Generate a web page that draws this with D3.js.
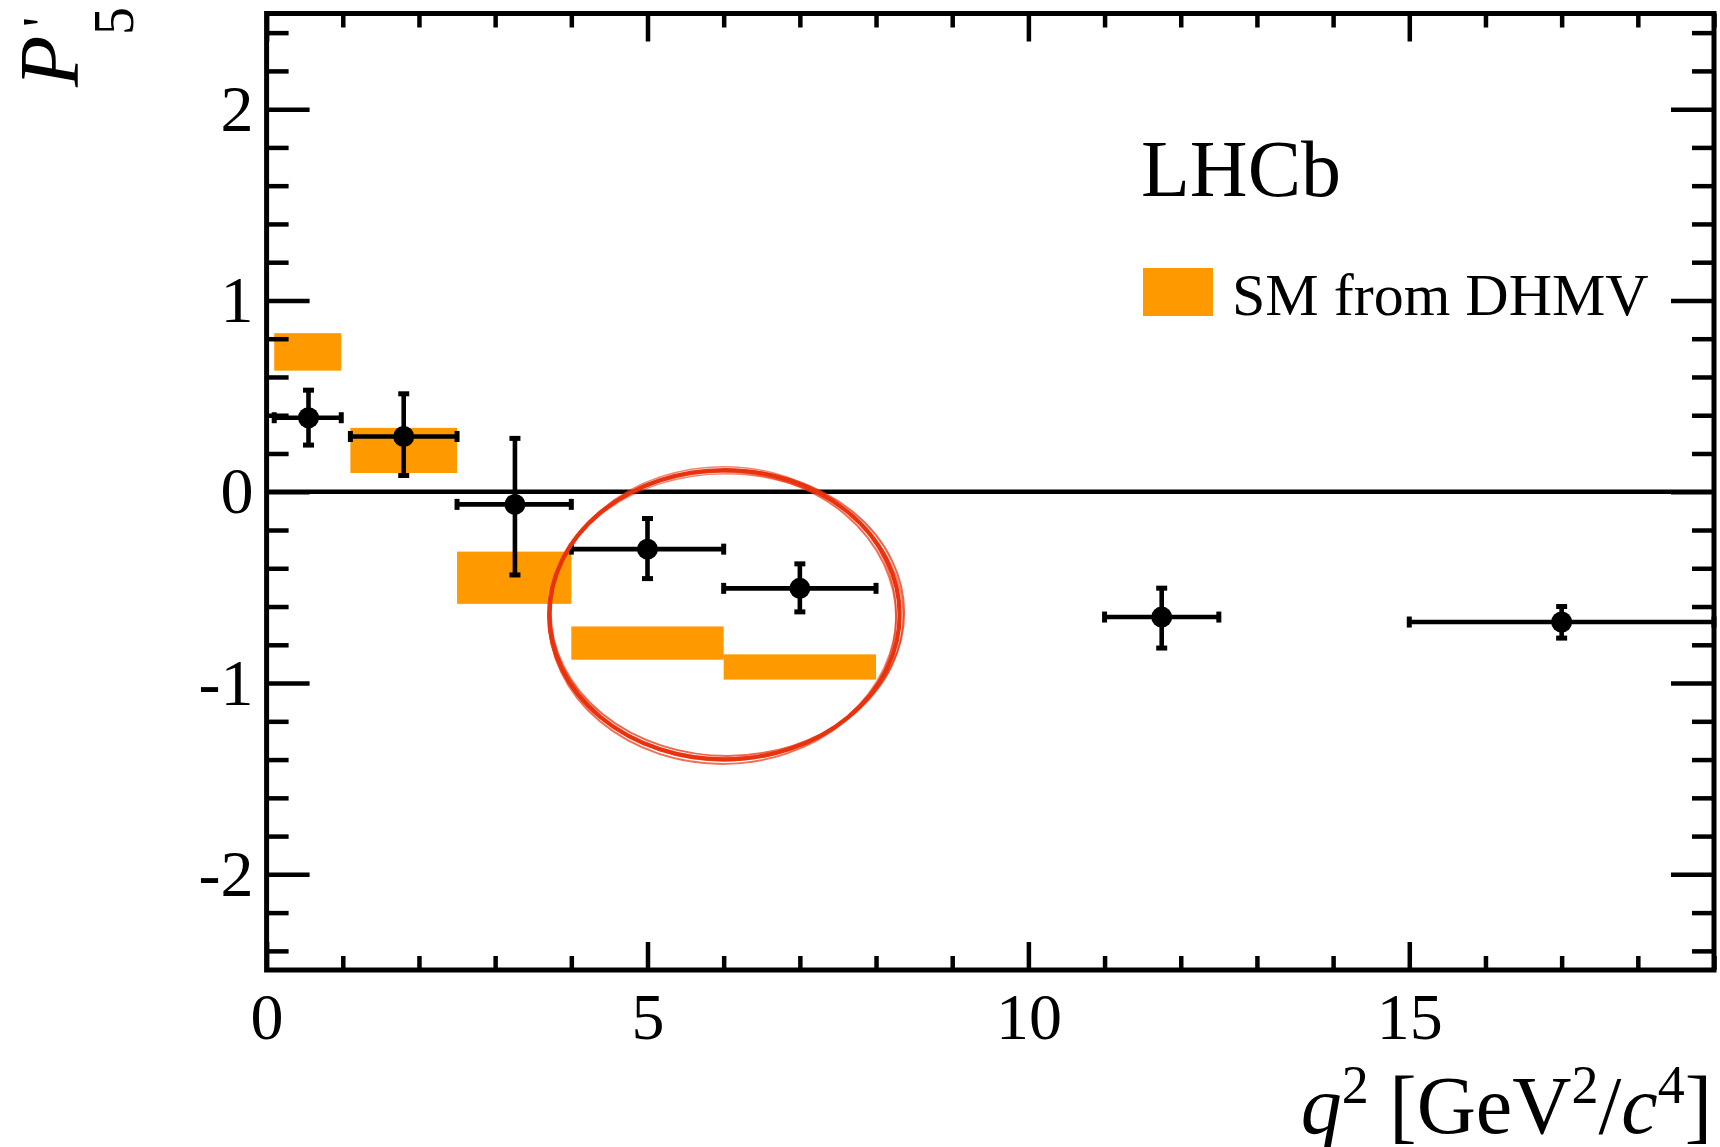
<!DOCTYPE html>
<html>
<head>
<meta charset="utf-8">
<script src="https://cdn.jsdelivr.net/npm/d3@7"></script>
<style>
  html, body { margin: 0; padding: 0; background: #fff; }
  svg { display: block; font-family: "Liberation Serif", "DejaVu Serif", serif; }
</style>
</head>
<body>
<svg id="chart" width="1720" height="1147"></svg>
<script>
// LHCb P'5 measurement, bins in q^2
var binLo   = [0.1, 1.1, 2.5, 4.0, 6.0, 11.0, 15.0];
var binHi   = [0.98, 2.5, 4.0, 6.0, 8.0, 12.5, 19.0];
var binMean = [0.55, 1.8, 3.26, 5.0, 7.0, 11.75, 17.0];
var p5      = [0.387, 0.289, -0.066, -0.300, -0.505, -0.655, -0.681];
var errUp   = [0.144, 0.223, 0.345, 0.160, 0.128, 0.151, 0.081];
var errDn   = [0.143, 0.204, 0.369, 0.154, 0.123, 0.162, 0.084];

// SM prediction from DHMV (boxes)
var smLo  = [0.1, 1.1, 2.5, 4.0, 6.0];
var smHi  = [0.98, 2.5, 4.0, 6.0, 8.0];
var smTop = [0.829, 0.334, -0.313, -0.704, -0.850];
var smBot = [0.633, 0.098, -0.586, -0.878, -0.982];

var xMajor = [0, 5, 10, 15];
var yMajor = [-2, -1, 0, 1, 2];

// hand drawn circle annotation (data units)
var markCx = 6.01, markCy = -0.643, markRx = 2.30, markRy = 0.756;

var margin = { top: 13.5, right: 6, bottom: 177, left: 266.6 },
  width = 1720 - margin.left - margin.right,
  height = 1147 - margin.top - margin.bottom,
  orange = "#ff9900",
  tickFont = 66,
  frameWidth = 5,
  tickWidth = 4.5;

var svg = d3.select("#chart");
var g = svg.append("g")
  .attr("transform", "translate(" + margin.left + "," + margin.top + ")");

var x = d3.scaleLinear().domain([0, 19]).range([0, width]);
var y = d3.scaleLinear().domain([-2.5, 2.5]).range([height, 0]);

// SM boxes
var sm = smLo.map(function(d, i) {
  return { lo: d, hi: smHi[i], top: smTop[i], bot: smBot[i] };
});
g.selectAll("rect.sm")
  .data(sm)
  .enter()
  .append("rect")
  .attr("class", "sm")
  .attr("x", function(d) { return x(d.lo); })
  .attr("width", function(d) { return x(d.hi) - x(d.lo); })
  .attr("y", function(d) { return y(d.top); })
  .attr("height", function(d) { return y(d.bot) - y(d.top); })
  .attr("fill", orange);

// zero line
g.append("line")
  .attr("x1", x(0)).attr("x2", x(19))
  .attr("y1", y(0)).attr("y2", y(0))
  .attr("stroke", "#000")
  .attr("stroke-width", 4.5);

// ticks: majors with labels, minors without, mirrored on top/right
var yMinor = d3.range(-24, 25, 2).map(function(d) { return d / 10; })
  .filter(function(d) { return Math.abs(d - Math.round(d)) > 1e-6; });
var xMinor = d3.range(0, 20).filter(function(d) { return d % 5 !== 0; });

function styleAxis(sel) {
  sel.select(".domain").remove();
  sel.selectAll(".tick line").attr("stroke", "#000").attr("stroke-width", tickWidth);
  sel.selectAll(".tick text")
    .attr("fill", "#000")
    .attr("font-size", tickFont)
    .attr("font-family", "Liberation Serif");
}

g.append("g")
  .call(d3.axisLeft(y).tickValues(yMajor).tickSize(-43).tickPadding(13)
    .tickFormat(function(d) { return String(d); }))
  .call(styleAxis);
g.append("g")
  .call(d3.axisLeft(y).tickValues(yMinor).tickSize(-22).tickFormat(""))
  .call(styleAxis);
g.append("g")
  .attr("transform", "translate(" + width + ",0)")
  .call(d3.axisRight(y).tickValues(yMajor).tickSize(-43).tickFormat(""))
  .call(styleAxis);
g.append("g")
  .attr("transform", "translate(" + width + ",0)")
  .call(d3.axisRight(y).tickValues(yMinor).tickSize(-22).tickFormat(""))
  .call(styleAxis);

g.append("g")
  .attr("transform", "translate(0," + height + ")")
  .call(d3.axisBottom(x).tickValues(xMajor).tickSize(-28).tickPadding(22)
    .tickFormat(function(d) { return String(d); }))
  .call(styleAxis);
g.append("g")
  .attr("transform", "translate(0," + height + ")")
  .call(d3.axisBottom(x).tickValues(xMinor).tickSize(-14).tickFormat(""))
  .call(styleAxis);
g.append("g")
  .call(d3.axisTop(x).tickValues(xMajor).tickSize(-28).tickFormat(""))
  .call(styleAxis);
g.append("g")
  .call(d3.axisTop(x).tickValues(xMinor).tickSize(-14).tickFormat(""))
  .call(styleAxis);

// frame
g.append("rect")
  .attr("x", 0).attr("y", 0)
  .attr("width", width).attr("height", height)
  .attr("fill", "none")
  .attr("stroke", "#000")
  .attr("stroke-width", frameWidth);

// data points with error bars
var pts = p5.map(function(d, i) {
  return { lo: binLo[i], hi: binHi[i], m: binMean[i], v: d, up: errUp[i], dn: errDn[i] };
});
var capHalf = 5.5, barWidth = 4.6;
var pt = g.selectAll("g.pt")
  .data(pts)
  .enter()
  .append("g")
  .attr("class", "pt")
  .attr("stroke", "#000")
  .attr("stroke-width", barWidth);

pt.append("line") // horizontal bar
  .attr("x1", function(d) { return x(d.lo); })
  .attr("x2", function(d) { return x(d.hi); })
  .attr("y1", function(d) { return y(d.v); })
  .attr("y2", function(d) { return y(d.v); });
pt.append("line") // vertical bar
  .attr("x1", function(d) { return x(d.m); })
  .attr("x2", function(d) { return x(d.m); })
  .attr("y1", function(d) { return y(d.v + d.up); })
  .attr("y2", function(d) { return y(d.v - d.dn); });

// end caps
[["lo", "h"], ["hi", "h"], ["up", "v"], ["dn", "v"]].forEach(function(c) {
  pt.append("line")
    .attr("stroke-width", 5)
    .attr("x1", function(d) {
      return c[1] === "h" ? x(d[c[0]]) : x(d.m) - capHalf;
    })
    .attr("x2", function(d) {
      return c[1] === "h" ? x(d[c[0]]) : x(d.m) + capHalf;
    })
    .attr("y1", function(d) {
      if (c[1] === "h") return y(d.v) - capHalf;
      return c[0] === "up" ? y(d.v + d.up) : y(d.v - d.dn);
    })
    .attr("y2", function(d) {
      if (c[1] === "h") return y(d.v) + capHalf;
      return c[0] === "up" ? y(d.v + d.up) : y(d.v - d.dn);
    });
});

pt.append("circle")
  .attr("cx", function(d) { return x(d.m); })
  .attr("cy", function(d) { return y(d.v); })
  .attr("r", 10.5)
  .attr("fill", "#000")
  .attr("stroke", "none");

// LHCb label and legend
svg.append("text")
  .attr("x", 1141).attr("y", 196)
  .attr("font-size", 80)
  .text("LHCb");
svg.append("rect")
  .attr("x", 1143).attr("y", 268)
  .attr("width", 70).attr("height", 48)
  .attr("fill", orange);
svg.append("text")
  .attr("x", 1232).attr("y", 315)
  .attr("font-size", 60)
  .text("SM from DHMV");

// axis titles
var xt = svg.append("text")
  .attr("x", 1712).attr("y", 1133)
  .attr("text-anchor", "end")
  .attr("font-size", 82);
xt.append("tspan").attr("font-style", "italic").text("q");
xt.append("tspan").attr("font-size", 54).attr("dy", -30).text("2");
xt.append("tspan").attr("dy", 30).text(" [GeV");
xt.append("tspan").attr("font-size", 54).attr("dy", -30).text("2");
xt.append("tspan").attr("dy", 30).text("/");
xt.append("tspan").attr("font-style", "italic").text("c");
xt.append("tspan").attr("font-size", 54).attr("dy", -30).text("4");
xt.append("tspan").attr("dy", 30).text("]");

var yt = svg.append("text")
  .attr("transform", "translate(78,87) rotate(-90)")
  .attr("font-size", 84);
yt.append("tspan").attr("font-style", "italic").text("P");
yt.append("tspan").attr("x", 60).attr("y", -16).attr("font-size", 56).text("'");
yt.append("tspan").attr("x", 52).attr("y", 55).attr("font-size", 56).text("5");

// red hand drawn ellipse, a few overlapping strokes
var red = svg.append("g")
  .attr("transform", "translate(" + margin.left + "," + margin.top + ")")
  .attr("fill", "none")
  .attr("stroke", "#e9330f");
[[0, 0, 0, 4.2, 1], [3, -2, 1.5, 2, 0.75], [-2, 3, -1.5, 2, 0.7],
 [1, 1, 2.5, 1.5, 0.6], [-1, -1, -2.5, 1.5, 0.6]]
  .forEach(function(v) {
    red.append("ellipse")
      .attr("cx", x(markCx) + v[0])
      .attr("cy", y(markCy) + v[1])
      .attr("rx", x(markRx) - x(0) + v[2])
      .attr("ry", y(0) - y(markRy) - v[2])
      .attr("stroke-width", v[3])
      .attr("opacity", v[4]);
  });
</script>
</body>
</html>
